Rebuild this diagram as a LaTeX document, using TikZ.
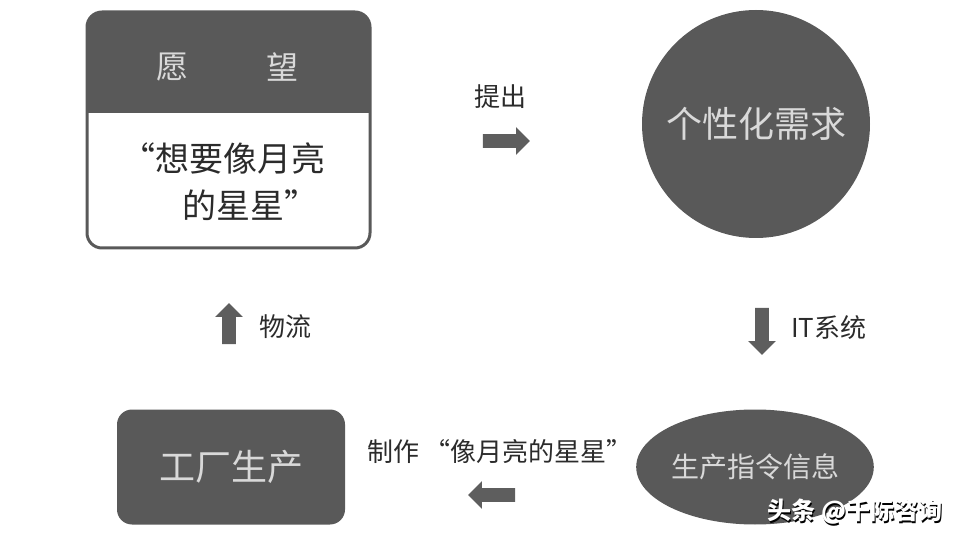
\documentclass[tikz,border=0pt]{standalone}
\usepackage{fontspec}
\setmainfont{Noto Sans CJK SC}
\usetikzlibrary{shapes.geometric,shapes.arrows}
\definecolor{shapegray}{HTML}{595959}
\definecolor{arrowgray}{HTML}{5E5E5E}
\definecolor{lighttext}{HTML}{D9D9D9}
\definecolor{darktext}{HTML}{2B2B2B}
\tikzset{
  darkshape/.style={fill=shapegray, text=lighttext, inner sep=0pt},
  blockarrow/.style={single arrow, fill=arrowgray, draw=none, inner sep=3.25pt,
    minimum height=23.5pt, single arrow head extend=3.5pt},
  steplabel/.style={text=darktext, font=\fontsize{13pt}{15pt}\selectfont}
}

\begin{document}
\begin{tikzpicture}[x=0.5pt,y=-0.5pt]
                \useasboundingbox (0,0) rectangle (960,540);
                \coordinate (wa) at (87,12);
                \coordinate (wb) at (370,248);
                \begin{scope}
                \clip[rounded corners=7.5pt] (wa) rectangle (wb);
                \fill[shapegray] (wa) rectangle (370,113);
                \end{scope}
                \draw[shapegray, line width=1.5pt, rounded corners=7.5pt] (wa) rectangle (wb);
                \node[text=lighttext, font=\fontsize{16pt}{18pt}\selectfont] (yuan) at (172,67) {愿};
                \node[text=lighttext, font=\fontsize{16pt}{18pt}\selectfont] (wang) at (282,67) {望};
                \node[text=darktext, font=\fontsize{17pt}{19pt}\selectfont] (wishA) at (223,158) {“想要像月亮};
                \node[text=darktext, font=\fontsize{17pt}{19pt}\selectfont] (wishB) at (250,205) {的星星”};

                \node[darkshape, circle, minimum size=114pt, font=\fontsize{18pt}{20pt}\selectfont] (demand) at (756,124) {个性化需求};
                \node[darkshape, ellipse, minimum width=113pt, minimum height=57.5pt, font=\fontsize{14pt}{16pt}\selectfont] (order) at (755,467) {生产指令信息};
                \node[darkshape, rectangle, rounded corners=7.5pt, minimum width=114pt, minimum height=57.5pt, font=\fontsize{18pt}{20pt}\selectfont] (factory) at (231,467) {工厂生产};

                \node[blockarrow] (arrR) at (503,141) {};
                \node[blockarrow, shape border rotate=270] (arrD) at (762,328) {};
                \node[blockarrow, shape border rotate=180] (arrL) at (495,495) {};
                \node[blockarrow, minimum height=20.5pt, shape border rotate=90] (arrU) at (229,327) {};

                \node[steplabel] (propose) at (500,97) {提出};
                \node[steplabel, anchor=west] (itsys) at (784,328) {IT系统};
                \node[steplabel] (make) at (500,452) {制作 “像月亮的星星”};
                \node[steplabel, anchor=west] (logistics) at (252,327) {物流};

                % watermark
                \node[text=black, font=\fontsize{12pt}{14pt}\bfseries\selectfont] (markshadow) at (856,514) {头条 @千际咨询};
                \node[text=white, font=\fontsize{12pt}{14pt}\bfseries\selectfont] (mark) at (855,512) {头条 @千际咨询};
            \end{tikzpicture}
\end{document}
